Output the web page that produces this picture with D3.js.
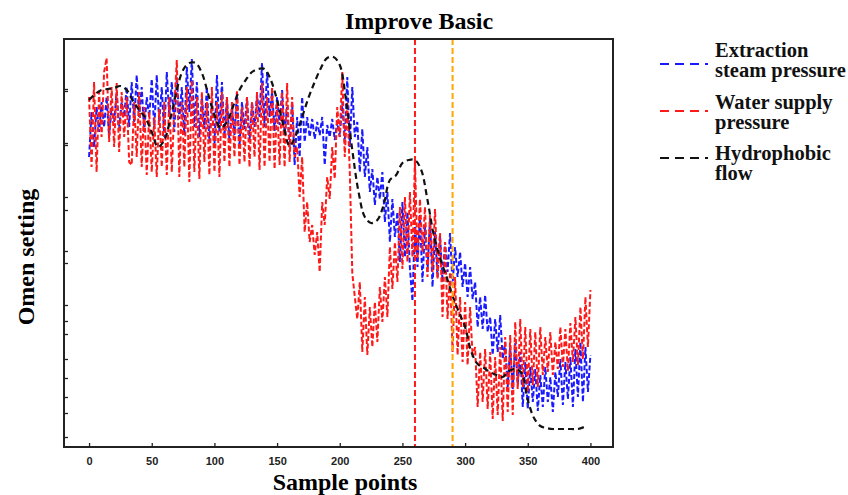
<!DOCTYPE html>
<html>
<head>
<meta charset="utf-8">
<script src="https://cdn.jsdelivr.net/npm/d3@7"></script>
<style>
  body { margin: 0; background: #fff; }
  svg { display: block; }
</style>
</head>
<body>
<svg id="chart" width="848" height="495"></svg>
<script>
// sample index of the noisy series (every 2nd sample)
const samples = d3.range(0, 401, 2);

const steamPressure = [
  290, 335, 300, 340, 315, 345, 320, 350, 310, 340, 325, 355, 318, 345, 330, 360, 320, 365, 325, 372,
  330, 360, 315, 350, 330, 368, 318, 372, 325, 360, 310, 375, 330, 365, 315, 370, 328, 360, 312, 380,
  335, 388, 320, 365, 310, 350, 318, 360, 305, 345, 300, 372, 315, 365, 310, 350, 305, 340, 312, 355,
  300, 345, 318, 350, 305, 345, 320, 352, 330, 384, 320, 375, 330, 355, 316, 350, 322, 357, 314, 340,
  300, 345, 282, 330, 290, 350, 305, 330, 310, 328, 308, 325, 312, 330, 282, 322, 310, 328, 307, 325,
  310, 345, 305, 370, 300, 360, 310, 325, 275, 318, 270, 300, 255, 278, 242, 270, 248, 275, 225, 255,
  205, 248, 210, 235, 185, 245, 190, 235, 178, 146, 225, 180, 232, 165, 220, 175, 228, 160, 215, 170,
  212, 165, 205, 175, 214, 162, 200, 170, 195, 160, 184, 150, 180, 148, 165, 120, 150, 118, 152, 115,
  130, 92, 128, 95, 132, 88, 105, 60, 100, 58, 104, 62, 95, 40, 85, 38, 80, 45, 78, 36,
  72, 40, 80, 45, 70, 35, 75, 50, 88, 42, 85, 48, 90, 40, 98, 50, 105, 45, 100, 55,
  92
];

const waterPressure = [
  350, 280, 365, 275, 355, 310, 375, 389, 305, 360, 300, 364, 295, 355, 310, 350, 285, 282, 345, 290,
  355, 280, 340, 272, 335, 275, 330, 270, 338, 280, 345, 272, 350, 275, 340, 387, 270, 345, 280, 360,
  265, 367, 275, 350, 268, 355, 285, 345, 272, 360, 275, 345, 270, 355, 285, 350, 280, 345, 290, 357,
  282, 340, 285, 350, 280, 345, 290, 355, 277, 364, 280, 350, 285, 360, 278, 345, 282, 355, 280, 364,
  285, 350, 290, 300, 250, 290, 215, 245, 205, 222, 192, 215, 175, 245, 222, 270, 248, 300, 268, 340,
  310, 375, 290, 345, 275, 174, 150, 128, 165, 95, 150, 92, 140, 100, 145, 105, 160, 125, 170, 130,
  200, 158, 205, 165, 240, 178, 250, 185, 255, 190, 287, 188, 248, 195, 240, 170, 232, 175, 238, 168,
  214, 130, 205, 128, 175, 95, 170, 92, 150, 85, 145, 82, 140, 90, 100, 40, 95, 45, 98, 38,
  95, 28, 90, 32, 100, 26, 110, 35, 112, 32, 125, 58, 128, 60, 120, 55, 118, 62, 115, 60,
  120, 72, 110, 75, 115, 72, 105, 78, 120, 80, 118, 76, 124, 85, 130, 82, 140, 88, 150, 100,
  157
];

// smooth series, every 5th sample
const flowSamples = d3.range(0, 396, 5);
const hydrophobicFlow = [
  347, 353, 357, 358, 359, 361, 357, 346, 337, 329, 315, 300, 307, 329, 357, 377, 384, 384, 374, 353,
  332, 319, 325, 341, 357, 367, 375, 378, 378, 367, 347, 322, 301, 312, 330, 349, 365, 379, 389, 390,
  382, 347, 297, 255, 230, 224, 227, 242, 267, 272, 284, 287, 287, 277, 247, 212, 189, 171, 151, 135,
  120, 95, 83, 79, 75, 72, 70, 76, 78, 74, 47, 29, 21, 19, 18, 18, 18, 18, 18, 20
];

const markers = [
  { x: 260, color: "#ff1a1a" },
  { x: 290, color: "#ffa500" }
];

const xTicks = [0, 50, 100, 150, 200, 250, 300, 350, 400];
const yTicks = [358, 356, 304, 302, 250, 237, 196, 184, 142, 126, 113, 88, 69, 50, 34, 10];

const series = [
  { name: ["Extraction", "steam pressure"], color: "#1a1aff", xs: samples, ys: steamPressure },
  { name: ["Water supply", "pressure"], color: "#ff1a1a", xs: samples, ys: waterPressure },
  { name: ["Hydrophobic", "flow"], color: "#111", xs: flowSamples, ys: hydrophobicFlow, smooth: true }
];

const svg = d3.select("#chart");
const plotLeft = 64, plotRight = 613, plotTop = 39, plotBottom = 447;

const x = d3.scaleLinear().domain([-20, 418]).range([plotLeft, plotRight]);
const y = d3.scaleLinear().domain([0, 408]).range([plotBottom, plotTop]);

const serif = "'Liberation Serif', 'Times New Roman', serif";

// data lines
series.forEach((s) => {
  const line = d3.line()
    .x((d, i) => x(s.xs[i]))
    .y((d) => y(d));
  if (s.smooth) line.curve(d3.curveCatmullRom);
  svg.append("path")
    .attr("d", line(s.ys))
    .attr("fill", "none")
    .attr("stroke", s.color)
    .attr("stroke-width", s.smooth ? 2.2 : 2)
    .attr("stroke-dasharray", s.smooth ? "6,4" : "5,2.5");
});

// vertical marker lines
svg.selectAll(".marker")
  .data(markers)
  .enter()
  .append("line")
  .attr("x1", (d) => x(d.x))
  .attr("x2", (d) => x(d.x))
  .attr("y1", plotTop)
  .attr("y2", plotBottom)
  .attr("stroke", (d) => d.color)
  .attr("stroke-width", 2)
  .attr("stroke-dasharray", "6,3");

// axes (ticks point inward)
const xAxis = svg.append("g")
  .attr("transform", `translate(0,${plotBottom})`)
  .call(d3.axisBottom(x).tickValues(xTicks).tickSizeInner(-4).tickSizeOuter(0).tickPadding(10));
xAxis.select(".domain").remove();
xAxis.selectAll("line").attr("stroke", "#222").attr("stroke-width", 1.3);
xAxis.selectAll("text")
  .attr("font-family", "'Liberation Sans', Arial, sans-serif")
  .attr("font-weight", "bold")
  .attr("font-size", 11)
  .attr("fill", "#222");

const yAxis = svg.append("g")
  .attr("transform", `translate(${plotLeft},0)`)
  .call(d3.axisLeft(y).tickValues(yTicks).tickSizeInner(-4).tickSizeOuter(0).tickFormat(""));
yAxis.select(".domain").remove();
yAxis.selectAll("line").attr("stroke", "#222").attr("stroke-width", 1.3);

// frame
svg.append("rect")
  .attr("x", plotLeft)
  .attr("y", plotTop)
  .attr("width", plotRight - plotLeft)
  .attr("height", plotBottom - plotTop)
  .attr("fill", "none")
  .attr("stroke", "#222")
  .attr("stroke-width", 2);

// title and axis labels
svg.append("text")
  .attr("x", 419)
  .attr("y", 29)
  .attr("text-anchor", "middle")
  .attr("font-family", serif)
  .attr("font-weight", "bold")
  .attr("font-size", 24)
  .text("Improve Basic");

svg.append("text")
  .attr("x", 345)
  .attr("y", 490)
  .attr("text-anchor", "middle")
  .attr("font-family", serif)
  .attr("font-weight", "bold")
  .attr("font-size", 24)
  .text("Sample points");

svg.append("text")
  .attr("transform", "translate(34,257) rotate(-90)")
  .attr("text-anchor", "middle")
  .attr("font-family", serif)
  .attr("font-weight", "bold")
  .attr("font-size", 24)
  .text("Omen setting");

// legend
const legend = svg.selectAll(".legend")
  .data(series)
  .enter()
  .append("g");

legend.append("line")
  .attr("x1", 660)
  .attr("x2", 708)
  .attr("y1", (d, i) => 64 + i * 47)
  .attr("y2", (d, i) => 64 + i * 47)
  .attr("stroke", (d) => d.color)
  .attr("stroke-width", 2)
  .attr("stroke-dasharray", "9,6");

legend.append("text")
  .attr("y", (d, i) => 57 + i * 51.5)
  .attr("font-family", serif)
  .attr("font-weight", "bold")
  .attr("font-size", 20.5)
  .attr("fill", "#111")
  .selectAll("tspan")
  .data((d) => d.name)
  .enter()
  .append("tspan")
  .attr("x", 715)
  .attr("dy", (d, i) => (i === 0 ? 0 : 20))
  .text((d) => d);
</script>
</body>
</html>
